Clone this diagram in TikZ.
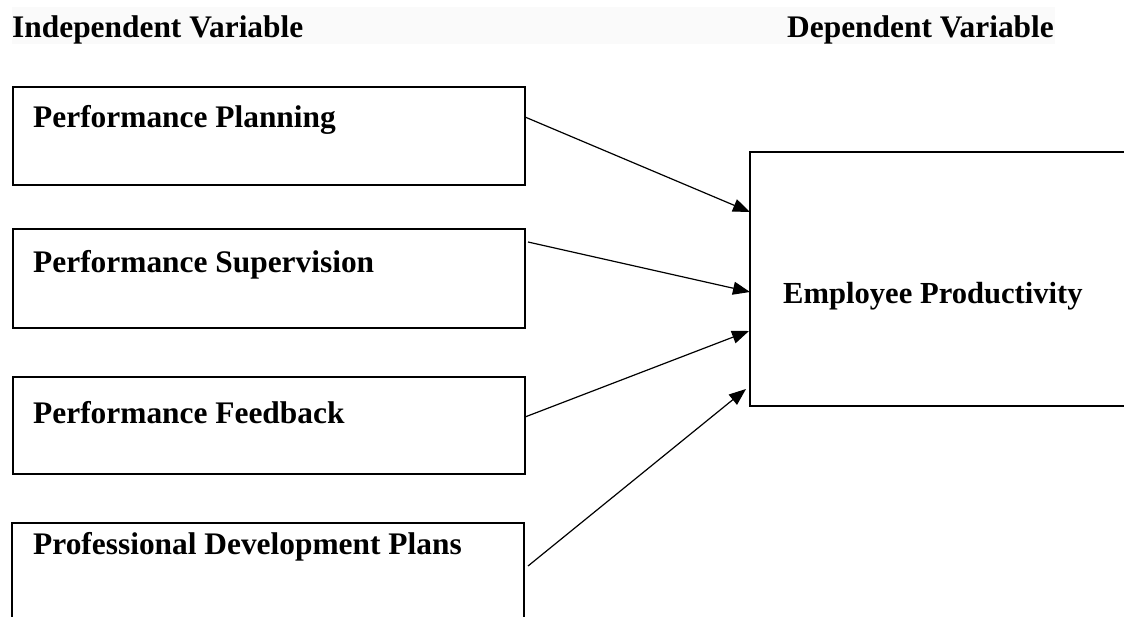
\documentclass[tikz,border=0pt]{standalone}
\usepackage{fontspec}
\setmainfont{Liberation Serif}
\usetikzlibrary{arrows.meta}
\begin{document}
\begin{tikzpicture}[x=1pt,y=-1pt,
  boxline/.style={line width=2pt},
  varbox/.style={draw,boxline,rectangle,anchor=north west,inner sep=0pt},
  lbl/.style={anchor=base west,inner sep=0pt,font=\bfseries\fontsize{31.4}{38}\selectfont},
  link/.style={line width=1.2pt,-{Triangle[length=17pt,width=13pt]}}]
\useasboundingbox (0,0) rectangle (1124,617);
\fill[white] (0,0) rectangle (1124,617);
% heading band
\fill[black!2] (12,7) rectangle (1055,44);
\node[lbl] (hi) at (12,38) {Independent Variable};
\node[lbl,anchor=base east] (hd) at (1054,38) {Dependent Variable};
% independent variables
\node[varbox,minimum width=512pt,minimum height=98pt] (b1) at (12,86) {};
\node[varbox,minimum width=512pt,minimum height=99pt] (b2) at (12,228) {};
\node[varbox,minimum width=512pt,minimum height=97pt] (b3) at (12,376) {};
\draw[boxline] (12,620) -- (12,523) -- (524,523) -- (524,620);
\node[lbl] (t1) at (33,128) {Performance Planning};
\node[lbl] (t2) at (33,273) {Performance Supervision};
\node[lbl] (t3) at (33,423) {Performance Feedback};
\node[lbl] (t4) at (33,554) {Professional Development Plans};
% dependent variable
\draw[boxline] (1130,152) -- (750,152) -- (750,406) -- (1130,406);
\node[lbl,font=\bfseries\fontsize{30.6}{38}\selectfont] (te) at (783,304) {Employee Productivity};
% connector end points
\coordinate (s1) at (525,117);
\coordinate (s2) at (528,242);
\coordinate (s3) at (525,417);
\coordinate (s4) at (528,566);
\coordinate (e1) at (750,212);
\coordinate (e2) at (750,292);
\coordinate (e3) at (749,331);
\coordinate (e4) at (746,389);
\draw[link] (s1) -- (e1);
\draw[link] (s2) -- (e2);
\draw[link] (s3) -- (e3);
\draw[link] (s4) -- (e4);
\end{tikzpicture}
\end{document}
